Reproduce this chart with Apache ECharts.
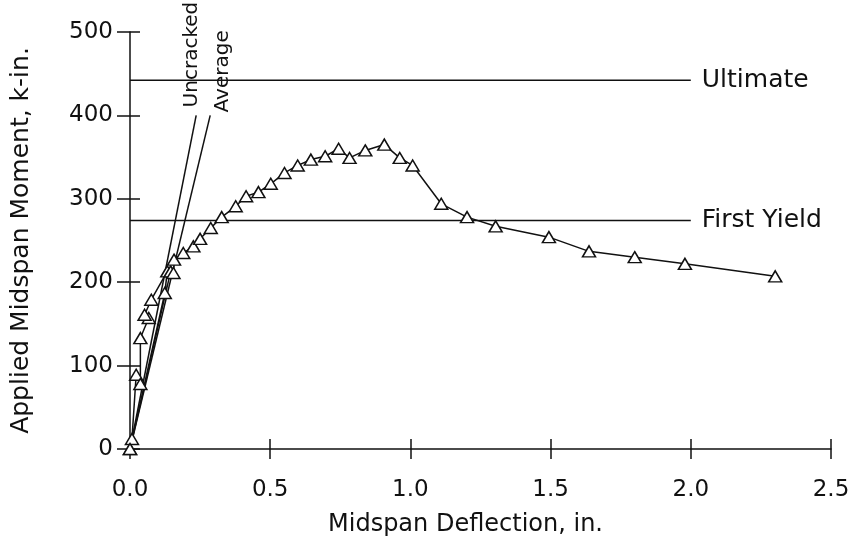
<!DOCTYPE html>
<html>
<head>
<meta charset="utf-8">
<script src="https://cdn.jsdelivr.net/npm/echarts@6/dist/echarts.min.js"></script>
<style>
  html, body { margin: 0; padding: 0; background: #fff; }
  #main { width: 855px; height: 546px; }
</style>
</head>
<body>
<div id="main"></div>
<script>
// measured curve (deflection in., moment k-in.)
let deflection = [0, 0.007, 0.022, 0.037, 0.037, 0.067, 0.052, 0.076, 0.133, 0.124, 0, 0.145, 0.155, 0.157,
  0.19, 0.226, 0.25, 0.288, 0.327, 0.377, 0.414, 0.458, 0.502, 0.551, 0.598, 0.645, 0.696, 0.744,
  0.783, 0.839, 0.907, 0.962, 1.008, 1.11, 1.202, 1.304, 1.494, 1.637, 1.8, 1.979, 2.301];
let moment = [0, 12, 89, 78, 133, 157, 161, 179, 213, 187, 0, 213, 211, 227,
  235, 243, 252, 265, 278, 291, 303, 308, 318, 331, 340, 347, 351, 360,
  349, 358, 365, 349, 340, 294, 278, 267, 254, 237, 230, 222, 207];

// stiffness lines
let uncrackedX = [0, 0.236];
let uncrackedY = [0, 400];
let averageX = [0, 0.286];
let averageY = [0, 400];

// reference levels
let levelNames = ['Ultimate', 'First Yield'];
let levelValues = [442, 274];
let levelX = [0, 2.0];

let font = "'DejaVu Sans ExtraLight', 'DejaVu Sans'";
let ink = '#111';

function pairs(xs, ys) {
  let out = [];
  for (let i = 0; i < xs.length; i++) {
    out.push([xs[i], ys[i]]);
  }
  return out;
}

let chart = echarts.init(document.getElementById('main'), null, { renderer: 'canvas' });

let series = [
  {
    type: 'line',
    data: pairs(deflection, moment),
    symbol: 'triangle',
    symbolSize: [13, 11],
    showAllSymbol: true,
    lineStyle: { color: ink, width: 1.5 },
    itemStyle: { color: '#fff', borderColor: ink, borderWidth: 1.5 },
    z: 5
  },
  {
    type: 'line',
    data: pairs(uncrackedX, uncrackedY),
    showSymbol: false,
    lineStyle: { color: ink, width: 1.5 }
  },
  {
    type: 'line',
    data: pairs(averageX, averageY),
    showSymbol: false,
    lineStyle: { color: ink, width: 1.5 }
  }
];

levelNames.forEach(function (name, i) {
  series.push({
    type: 'line',
    data: pairs(levelX, [levelValues[i], levelValues[i]]),
    showSymbol: false,
    lineStyle: { color: ink, width: 1.5 },
    endLabel: {
      show: true,
      formatter: name,
      distance: 11,
      color: ink,
      fontFamily: font,
      fontSize: 25
    }
  });
});

// second copy of each axis, only for the inner half of the ticks
function innerTicks(pos, min, max, interval, len) {
  return {
    type: 'value',
    position: pos,
    min: min,
    max: max,
    interval: interval,
    splitLine: { show: false },
    axisLine: { show: false, onZero: false },
    axisLabel: { show: false },
    axisTick: { show: true, inside: true, length: len, lineStyle: { color: ink, width: 1.5 } }
  };
}

let option = {
  backgroundColor: '#fff',
  animation: false,
  grid: { left: 130, right: 24, top: 32, bottom: 97 },
  xAxis: [
    {
      type: 'value',
      position: 'bottom',
      min: 0,
      max: 2.5,
      interval: 0.5,
      name: 'Midspan Deflection, in.',
      nameLocation: 'middle',
      nameGap: 64,
      nameTextStyle: { color: ink, fontFamily: font, fontSize: 24, padding: [0, 30, 0, 0] },
      splitLine: { show: false },
      axisLine: { show: true, onZero: false, lineStyle: { color: ink, width: 1.5 } },
      axisTick: { show: true, length: 10, lineStyle: { color: ink, width: 1.5 } },
      axisLabel: {
        color: ink, fontFamily: font, fontSize: 23, margin: 30,
        formatter: function (v) { return v.toFixed(1); }
      }
    },
    innerTicks('bottom', 0, 2.5, 0.5, 10)
  ],
  yAxis: [
    {
      type: 'value',
      position: 'left',
      min: 0,
      max: 500,
      interval: 100,
      name: 'Applied Midspan Moment, k-in.',
      nameLocation: 'middle',
      nameGap: 96,
      nameTextStyle: { color: ink, fontFamily: font, fontSize: 25 },
      splitLine: { show: false },
      axisLine: { show: true, onZero: false, lineStyle: { color: ink, width: 1.5 } },
      axisTick: { show: true, length: 13, lineStyle: { color: ink, width: 1.5 } },
      axisLabel: { color: ink, fontFamily: font, fontSize: 23, margin: 17 }
    },
    innerTicks('left', 0, 500, 100, 10)
  ],
  series: series
};

chart.setOption(option);

// rotated labels above the stiffness lines
let uEnd = chart.convertToPixel({ xAxisIndex: 0, yAxisIndex: 0 }, [uncrackedX[1], uncrackedY[1]]);
let aEnd = chart.convertToPixel({ xAxisIndex: 0, yAxisIndex: 0 }, [averageX[1], averageY[1]]);

function vText(text, x, y) {
  return {
    type: 'text',
    x: x,
    y: y,
    rotation: Math.PI / 2,
    style: {
      text: text,
      fill: ink,
      fontFamily: font,
      fontSize: 20,
      textAlign: 'left',
      textVerticalAlign: 'middle',
      verticalAlign: 'middle'
    },
    z: 10
  };
}

chart.setOption({
  graphic: [
    vText('Uncracked', uEnd[0] - 4, uEnd[1] - 8),
    vText('Average', aEnd[0] + 13, aEnd[1] - 3)
  ]
});
</script>
</body>
</html>
